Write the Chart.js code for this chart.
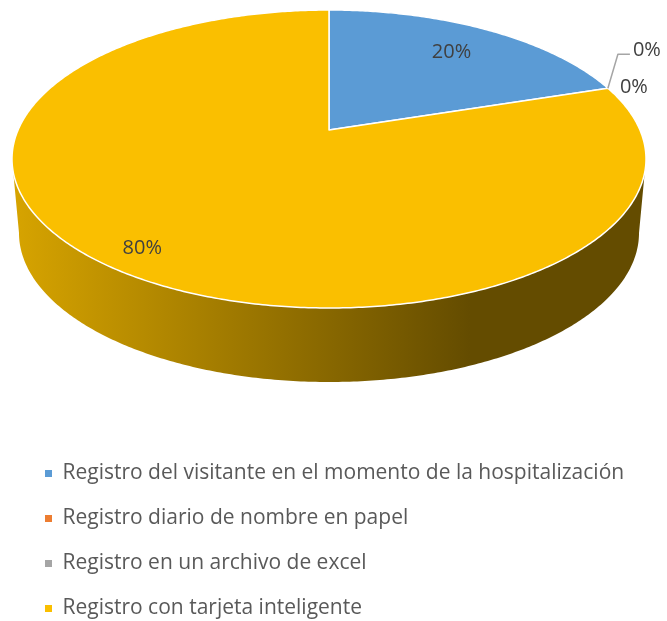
<!DOCTYPE html>
<html>
<head>
<meta charset="utf-8">
<title>Registro de visitantes</title>
<script src="https://cdn.jsdelivr.net/npm/chart.js"></script>
<style>
  body { margin: 0; background: #fff; overflow: hidden; }
  #wrap { width: 667px; height: 621px; }
</style>
</head>
<body>
<div id="wrap"><canvas id="myChart"></canvas></div>
<script>
var labels = [
  'Registro del visitante en el momento de la hospitalización',
  'Registro diario de nombre en papel',
  'Registro en un archivo de excel',
  'Registro con tarjeta inteligente'
];
var values = [20, 0, 0, 80];
var colors = ['#5B9BD5', '#ED7D31', '#A5A5A5', '#FABF00'];

// label placement (style only): distance from centre as part of radius,
// and offsets for the labels of empty slices
var labelRadius = [0.75, 0, 0, 0.88];
var zeroOffsets = [null, [39, -38], [26, -1], null];

function shade(hex, k) {
  var n = parseInt(hex.slice(1), 16);
  var r = Math.round(((n >> 16) & 255) * k), g = Math.round(((n >> 8) & 255) * k), b = Math.round((n & 255) * k);
  return 'rgb(' + r + ',' + g + ',' + b + ')';
}

// draws the pie as an Excel style 3D pie, tilted in perspective
var pie3d = {
  id: 'pie3d',
  beforeDatasetsDraw: function(chart, args, o) {
    var ctx = chart.ctx;
    var arcs = chart.getDatasetMeta(0).data;
    var ds = chart.data.datasets[0];
    var b = o.tilt, g = 1 / Math.sqrt(1 - b * b);
    var top = {cx: o.cx, cy: o.cy, rx: o.rx, ry: o.ry};
    var bot = {cx: o.cx, cy: o.cy + o.depth, rx: o.rx - o.taper, ry: o.ry};
    function pt(t, f, e) {
      var u = f * Math.sin(t), v = -f * Math.cos(t);
      var d = 1 + b * v;
      return [e.cx + e.rx * u / (g * d), e.cy + e.ry * (v + b) / d];
    }
    function edge(s, e, el, back) {
      var n = Math.max(2, Math.ceil((e - s) / 0.01)), list = [];
      for (var k = 0; k <= n; k++) list.push(pt(s + (e - s) * k / n, 1, el));
      return back ? list.reverse() : list;
    }
    var ta = Math.acos(b), tb = 2 * Math.PI - ta;
    var total = values.reduce(function(a, c) { return a + c; }, 0);

    ctx.save();
    // side walls
    arcs.forEach(function(a, i) {
      var s = Math.max(a.startAngle + Math.PI / 2, ta), e = Math.min(a.endAngle + Math.PI / 2, tb);
      if (e <= s) return;
      var grad = ctx.createLinearGradient(o.cx - o.rx, 0, o.cx + o.gradEnd * o.rx, 0);
      grad.addColorStop(0, shade(ds.backgroundColor[i], 0.86));
      grad.addColorStop(1, shade(ds.backgroundColor[i], 0.40));
      var p = edge(s, e, top, false).concat(edge(s, e, bot, true));
      ctx.beginPath();
      ctx.moveTo(p[0][0], p[0][1]);
      p.forEach(function(q) { ctx.lineTo(q[0], q[1]); });
      ctx.closePath();
      ctx.fillStyle = grad;
      ctx.fill();
    });
    // top faces
    ctx.lineWidth = 1.5;
    ctx.lineJoin = 'round';
    ctx.strokeStyle = '#ffffff';
    arcs.forEach(function(a, i) {
      if (a.endAngle - a.startAngle <= 0) return;
      var c = pt(0, 0, top);
      var p = edge(a.startAngle + Math.PI / 2, a.endAngle + Math.PI / 2, top, false);
      ctx.beginPath();
      ctx.moveTo(c[0], c[1]);
      p.forEach(function(q) { ctx.lineTo(q[0], q[1]); });
      ctx.closePath();
      ctx.fillStyle = ds.backgroundColor[i];
      ctx.fill();
      ctx.stroke();
    });
    // data labels
    ctx.font = '20px "Open Sans", sans-serif';
    ctx.fillStyle = '#404040';
    ctx.textAlign = 'center';
    ctx.textBaseline = 'middle';
    arcs.forEach(function(a, i) {
      var txt = Math.round(values[i] / total * 100) + '%';
      if (values[i] > 0) {
        var m = (a.startAngle + a.endAngle) / 2 + Math.PI / 2;
        var p = pt(m, labelRadius[i], top);
        ctx.fillText(txt, p[0], p[1]);
      } else {
        var ep = pt(a.startAngle + Math.PI / 2, 1, top);
        var off = zeroOffsets[i];
        var lx = ep[0] + off[0], ly = ep[1] + off[1];
        if (Math.hypot(off[0], off[1]) > 40) {
          var w = ctx.measureText(txt).width;
          var ex = lx - w / 2 - 3, ey = ly + 4;
          ctx.beginPath();
          ctx.moveTo(ep[0], ep[1]);
          ctx.lineTo(ex - 12, ey);
          ctx.lineTo(ex, ey);
          ctx.strokeStyle = '#A5A5A5';
          ctx.lineWidth = 1.5;
          ctx.stroke();
        }
        ctx.fillText(txt, lx, ly);
      }
    });
    ctx.restore();
    return false;
  }
};

function create() {
  var data = {
    labels: labels,
    datasets: [{
      data: values,
      backgroundColor: colors,
      borderWidth: 0
    }]
  };

  var config = {
    type: 'pie',
    data: data,
    options: {
      responsive: true,
      maintainAspectRatio: false,
      animation: false,
      events: [],
      layout: { padding: { left: 21, bottom: -8 } },
      plugins: {
        tooltip: { enabled: false },
        legend: {
          position: 'bottom',
          align: 'start',
          labels: {
            boxWidth: 7,
            boxHeight: 7,
            padding: 24,
            color: '#595959',
            font: { family: '"Open Sans", sans-serif', size: 21 }
          }
        },
        pie3d: { cx: 329, cy: 159, rx: 317, ry: 149, depth: 74, taper: 7, tilt: -0.195, gradEnd: 0.445 }
      }
    },
    plugins: [pie3d]
  };

  return new Chart(document.getElementById('myChart'), config);
}

var myChart = create();
</script>
</body>
</html>
